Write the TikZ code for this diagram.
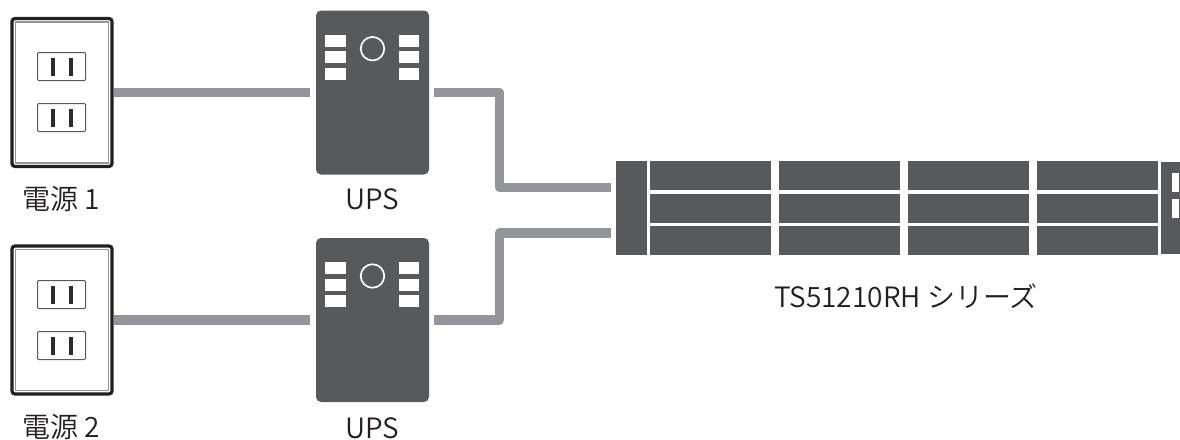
\documentclass[tikz,border=0pt]{standalone}
\usepackage{fontspec}
\setmainfont{Noto Sans CJK JP}[UprightFont=* DemiLight]

\definecolor{body}{HTML}{58595B}
\definecolor{cable}{HTML}{939598}
\definecolor{rim}{HTML}{231F20}

\begin{document}
\begin{tikzpicture}[x=1pt,y=-1pt,
    plate/.style={rectangle,draw=rim,line width=3.2pt,fill=white,rounded corners=3pt,minimum width=100pt,minimum height=148pt,inner sep=0pt},
    inner plate/.style={rectangle,draw=cable,line width=1.4pt,minimum width=93pt,minimum height=141pt,inner sep=0pt},
    socket/.style={rectangle,draw=body,line width=1pt,fill=white,rounded corners=1pt,minimum width=48pt,minimum height=28pt,inner sep=0pt},
    slot/.style={rectangle,fill=rim!80!body,minimum width=4pt,minimum height=18pt,inner sep=0pt},
    ups/.style={rectangle,fill=body,rounded corners=5pt,minimum width=113pt,minimum height=164pt,inner sep=0pt},
    port/.style={rectangle,fill=white,minimum width=20.5pt,minimum height=12pt,inner sep=0pt},
    lamp/.style={circle,draw=white,line width=1.7pt,minimum size=23.5pt,inner sep=0pt},
    bay/.style={rectangle,fill=body,minimum width=121pt,minimum height=29pt,inner sep=0pt},
    ear/.style={rectangle,fill=body,inner sep=0pt},
    label/.style={font=\fontsize{28}{32}\selectfont,text=rim,inner sep=0pt},
    wire/.style={draw=cable,line width=9.5pt,line join=round},
    node distance = 129pt]
          % outlet 1
          \node[plate](plate1)       at (62,92.5)  {};
          \node[inner plate](in1)    at (62,92.5)  {};
          \node[socket](s1)          at (61.5,66.5)  {};
          \node[socket](s2)          at (61.5,117.5) {};
          \node[slot](a1)            at (52.5,66.5)  {};
          \node[slot](a2)            at (70.5,66.5)  {};
          \node[slot](a3)            at (52.5,117.5) {};
          \node[slot](a4)            at (70.5,117.5) {};
          \node[label](name1)        at (61.5,199) {電源 1};
          % outlet 2
          \node[plate](plate2)       at (62,320)   {};
          \node[inner plate](in2)    at (62,320)   {};
          \node[socket](s3)          at (61.5,294.5) {};
          \node[socket](s4)          at (61.5,345.5) {};
          \node[slot](b1)            at (52.5,294.5) {};
          \node[slot](b2)            at (70.5,294.5) {};
          \node[slot](b3)            at (52.5,345.5) {};
          \node[slot](b4)            at (70.5,345.5) {};
          \node[label](name2)        at (61.5,427) {電源 2};
          % ups 1
          \node[ups](ups1)           at (372.5,92.5) {};
          \node[lamp](lamp1)         at (372.5,48.7) {};
          \node[port](p1)            at (335.5,40.5) {};
          \node[port](p2)            at (335.5,57)   {};
          \node[port](p3)            at (335.5,74)   {};
          \node[port](p4)            at (409,40.5)   {};
          \node[port](p5)            at (409,57)     {};
          \node[port](p6)            at (409,74)     {};
          \node[label](name3)        at (372,199)  {UPS};
          % ups 2
          \node[ups](ups2)           at (372.5,320)  {};
          \node[lamp](lamp2)         at (372.5,276)  {};
          \node[port](p7)            at (335.5,268)  {};
          \node[port](p8)            at (335.5,284.5){};
          \node[port](p9)            at (335.5,301)  {};
          \node[port](p10)           at (409,268)    {};
          \node[port](p11)           at (409,284.5)  {};
          \node[port](p12)           at (409,301)    {};
          \node[label](name4)        at (372,428)  {UPS};
          % nas
          \node[ear,minimum width=31pt,minimum height=94pt](left) at (631.5,208) {};
          \node[bay](0)              at (710.5,175.5) {};
          \node[bay](1)   [right of = 0]   {};
          \node[bay](2)   [right of = 1]   {};
          \node[bay](3)   [right of = 2]   {};
          \node[bay](4)              at (710.5,208) {};
          \node[bay](5)   [right of = 4]   {};
          \node[bay](6)   [right of = 5]   {};
          \node[bay](7)   [right of = 6]   {};
          \node[bay](8)              at (710.5,240.5) {};
          \node[bay](9)   [right of = 8]   {};
          \node[bay](10)  [right of = 9]   {};
          \node[bay](11)  [right of = 10]  {};
          \node[ear,minimum width=19pt,minimum height=92pt](right) at (1170.5,208) {};
          \node[port,minimum width=7pt,minimum height=19pt](r1) at (1175.5,182.5) {};
          \node[port,minimum width=7pt,minimum height=19pt](r2) at (1175.5,208.5) {};
          \node[label](name5)        at (906,296)  {TS51210RH シリーズ};
          % cables
          \coordinate (bend1) at (499.5,92.5);
          \coordinate (bend2) at (499.5,320);
          \coordinate (end1)  at (611,187.5);
          \coordinate (end2)  at (611,233);
          \path[wire,shorten >=6pt] (plate1) -- (ups1);
          \path[wire,shorten >=6pt] (plate2) -- (ups2);
          \path[wire,shorten <=5pt] (ups1) -- (bend1) |- (end1);
          \path[wire,shorten <=5pt] (ups2) -- (bend2) |- (end2);
          \useasboundingbox (0,0) rectangle (1180,437);
        \end{tikzpicture}
\end{document}
